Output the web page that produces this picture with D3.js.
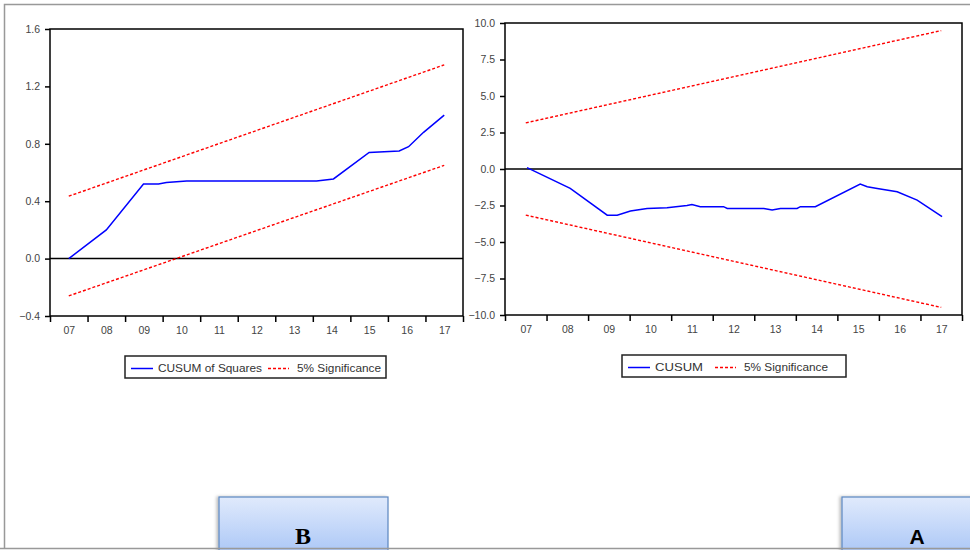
<!DOCTYPE html>
<html>
<head>
<meta charset="utf-8">
<script src="https://cdn.jsdelivr.net/npm/d3@7/dist/d3.min.js"></script>
<style>
  body { margin: 0; background: #fff; }
  svg { display: block; }
  .tick text { font-family: "Liberation Sans", Arial, sans-serif; font-size: 10.5px; fill: #444; }
</style>
</head>
<body>
<svg id="chart" width="970" height="550"></svg>
<script>
// ---- data ----
var yearLabels = ["07", "08", "09", "10", "11", "12", "13", "14", "15", "16", "17"];

// CUSUM of squares (left, "B")
var sqTime = [2007.5, 2008.5, 2009.49, 2009.89, 2010.1, 2010.64, 2014.1, 2014.55, 2015.5, 2015.9, 2016.3, 2016.55, 2016.95, 2017.5];
var sqValue = [0.0, 0.2, 0.52, 0.52, 0.53, 0.54, 0.54, 0.555, 0.74, 0.745, 0.75, 0.78, 0.88, 1.0];
var sqBandTime = [2007.5, 2017.5];
var sqUpper = [0.435, 1.35];
var sqLower = [-0.26, 0.65];
var sqTicks = [-0.4, 0.0, 0.4, 0.8, 1.2, 1.6];

// CUSUM (right, "A")
var cuTime = [2007.53, 2008.57, 2009.46, 2009.7, 2010.02, 2010.42, 2010.9, 2011.38, 2011.5, 2011.7, 2012.26, 2012.35, 2013.23, 2013.43, 2013.63, 2014.03, 2014.11, 2014.47, 2015.55, 2015.72, 2015.96, 2016.44, 2016.92, 2017.52];
var cuValue = [0.09, -1.33, -3.16, -3.16, -2.88, -2.7, -2.65, -2.5, -2.43, -2.58, -2.58, -2.7, -2.7, -2.81, -2.7, -2.7, -2.58, -2.58, -1.03, -1.21, -1.33, -1.56, -2.13, -3.27];
var cuBandTime = [2007.5, 2017.5];
var cuUpper = [3.16, 9.48];
var cuLower = [-3.16, -9.48];
var cuTicks = [-10, -7.5, -5, -2.5, 0, 2.5, 5, 7.5, 10];

var svg = d3.select("#chart");

// page frame
svg.append("path")
    .attr("d", "M4.5,548 V4.5 H970")
    .attr("fill", "none")
    .attr("stroke", "#999")
    .attr("stroke-width", 1.5);

var drawPanel = function(opt) {
    var x = d3.scaleLinear().domain([2007, 2018]).range([opt.left, opt.right]);
    var y = d3.scaleLinear().domain(opt.yDomain).range([opt.bottom, opt.top]);
    var g = svg.append("g");

    // y axis
    g.append("g")
        .attr("transform", "translate(" + opt.left + ",0)")
        .call(d3.axisLeft(y).tickValues(opt.yTicks).tickSize(5).tickPadding(5).tickFormat(d3.format(".1f")))
        .call(function(a) { a.select(".domain").remove(); });

    // x axis: ticks at year borders, labels mid-year
    g.append("g")
        .attr("transform", "translate(0," + opt.bottom + ")")
        .call(d3.axisBottom(x).tickValues(d3.range(2007, 2019)).tickSize(6).tickFormat(""))
        .call(function(a) { a.select(".domain").remove(); });
    g.append("g")
        .attr("transform", "translate(0," + opt.bottom + ")")
        .call(d3.axisBottom(x).tickValues(d3.range(2007.5, 2018, 1)).tickSize(0).tickPadding(11)
            .tickFormat(function(d, i) { return yearLabels[i]; }))
        .call(function(a) { a.select(".domain").remove(); });

    g.selectAll(".tick line").attr("stroke", "#000").attr("stroke-width", 1.5);

    // zero line
    g.append("line")
        .attr("x1", opt.left).attr("x2", opt.right)
        .attr("y1", y(0)).attr("y2", y(0))
        .attr("stroke", "#000").attr("stroke-width", 1.5);

    var line = d3.line()
        .x(function(d) { return x(d[0]); })
        .y(function(d) { return y(d[1]); });

    [opt.upper, opt.lower].forEach(function(band) {
        g.append("path")
            .datum(d3.zip(opt.bandTime, band))
            .attr("d", line)
            .attr("fill", "none")
            .attr("stroke", "#ff0000")
            .attr("stroke-width", 1.4)
            .attr("stroke-dasharray", "3,2");
    });

    g.append("path")
        .datum(d3.zip(opt.time, opt.value))
        .attr("d", line)
        .attr("fill", "none")
        .attr("stroke", "#0000ff")
        .attr("stroke-width", 1.5);

    // frame
    g.append("rect")
        .attr("x", opt.left).attr("y", opt.top)
        .attr("width", opt.right - opt.left).attr("height", opt.bottom - opt.top)
        .attr("fill", "none").attr("stroke", "#000").attr("stroke-width", 1.5);

    // legend
    var lg = g.append("g").attr("transform", "translate(" + opt.legend.x + "," + opt.legend.y + ")");
    lg.append("rect")
        .attr("width", opt.legend.w).attr("height", 22)
        .attr("fill", "#fff").attr("stroke", "#222").attr("stroke-width", 1.5);
    lg.append("line").attr("x1", 6).attr("x2", 28).attr("y1", 12.5).attr("y2", 12.5)
        .attr("stroke", "#0000ff").attr("stroke-width", 1.5);
    lg.append("text").attr("x", 33).attr("y", 16)
        .attr("font-family", "Liberation Sans, Arial, sans-serif").attr("font-size", 11).attr("fill", "#333")
        .attr("textLength", opt.legend.t1).attr("lengthAdjust", "spacingAndGlyphs")
        .text(opt.name);
    lg.append("line").attr("x1", opt.legend.r).attr("x2", opt.legend.r + 21).attr("y1", 12.5).attr("y2", 12.5)
        .attr("stroke", "#ff0000").attr("stroke-width", 1.4).attr("stroke-dasharray", "3,2");
    lg.append("text").attr("x", opt.legend.r + 29).attr("y", 16)
        .attr("font-family", "Liberation Sans, Arial, sans-serif").attr("font-size", 11).attr("fill", "#333")
        .attr("textLength", 84).attr("lengthAdjust", "spacingAndGlyphs")
        .text("5% Significance");
};

drawPanel({
    left: 50, right: 463, top: 29, bottom: 316,
    yDomain: [-0.4, 1.6], yTicks: sqTicks,
    time: sqTime, value: sqValue,
    bandTime: sqBandTime, upper: sqUpper, lower: sqLower,
    name: "CUSUM of Squares",
    legend: { x: 125, y: 356, w: 261, t1: 104, r: 143 }
});

drawPanel({
    left: 505, right: 962, top: 23, bottom: 315,
    yDomain: [-10, 10], yTicks: cuTicks,
    time: cuTime, value: cuValue,
    bandTime: cuBandTime, upper: cuUpper, lower: cuLower,
    name: "CUSUM",
    legend: { x: 622, y: 355, w: 224, t1: 48, r: 93 }
});

// buttons
var defs = svg.append("defs");
var grad = defs.append("linearGradient").attr("id", "btn").attr("x1", 0).attr("x2", 0).attr("y1", 0).attr("y2", 1);
grad.append("stop").attr("offset", "0%").attr("stop-color", "#e0eafc");
grad.append("stop").attr("offset", "100%").attr("stop-color", "#a8c5f6");
var shadow = defs.append("filter").attr("id", "shd").attr("x", "-20%").attr("y", "-20%").attr("width", "140%").attr("height", "140%");
shadow.append("feDropShadow").attr("dx", -2).attr("dy", 0).attr("stdDeviation", 1.5).attr("flood-color", "#000").attr("flood-opacity", 0.25);

var buttons = [
    { label: "B", x: 219, w: 169, cx: 303, font: "Liberation Serif, DejaVu Serif, serif", size: 24 },
    { label: "A", x: 842, w: 140, cx: 917, font: "Liberation Sans, Arial, sans-serif", size: 21 }
];
buttons.forEach(function(b) {
    svg.append("rect")
        .attr("x", b.x).attr("y", 497).attr("width", b.w).attr("height", 60)
        .attr("fill", "url(#btn)").attr("stroke", "#5a86c0").attr("stroke-width", 1.2)
        .attr("filter", "url(#shd)");
    svg.append("text")
        .attr("x", b.cx).attr("y", 544)
        .attr("text-anchor", "middle")
        .attr("font-family", b.font).attr("font-weight", "bold").attr("font-size", b.size)
        .attr("fill", "#000")
        .text(b.label);
});

// bottom frame line
svg.append("line").attr("x1", 0).attr("x2", 970).attr("y1", 548.5).attr("y2", 548.5)
    .attr("stroke", "#999").attr("stroke-width", 1.5);
</script>
</body>
</html>
